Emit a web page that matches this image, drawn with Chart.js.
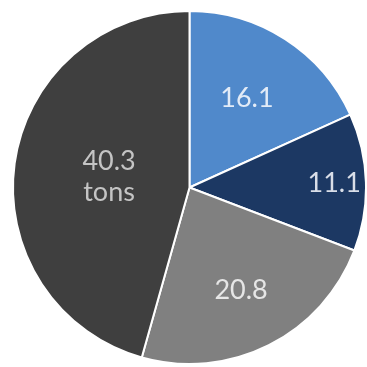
<!DOCTYPE html>
<html lang="en">
<head>
    <meta charset="UTF-8">
    <title>Tons pie</title>
    <script src="https://cdn.jsdelivr.net/npm/chart.js"></script>
    <style>
        html, body {
            margin: 0;
            padding: 0;
            background: #ffffff;
        }
        #chartBox {
            width: 367px;
            height: 367px;
        }
    </style>
</head>
<body>
<div id="chartBox">
    <canvas id="pieChart"></canvas>
</div>
<script>
    // slice data, clockwise from 12 o'clock
    const categories = ['A', 'B', 'C', 'D'];
    const values = [16.1, 11.1, 20.8, 40.3];
    const units = ['', '', '', 'tons'];   // second line under the value
    const sliceColors = ['#5089cb', '#1c3863', '#808080', '#3f3f3f'];
    const labelColors = ['#e2ebf7', '#d9dee8', '#e6e6e6', '#c4c4c4'];

    // how far out each label sits, as a share of the radius
    const labelRadius = [0.6, 0.82, 0.65, 0.46];

    const sliceLabels = {
        id: 'sliceLabels',
        afterDatasetsDraw(chart) {
            const ctx = chart.ctx;
            const meta = chart.getDatasetMeta(0);
            ctx.save();
            ctx.font = '27px Lato, "Open Sans", sans-serif';
            ctx.textAlign = 'center';
            ctx.textBaseline = 'middle';
            meta.data.forEach((arc, i) => {
                const p = arc.getProps(['x', 'y', 'startAngle', 'endAngle', 'outerRadius'], true);
                const mid = (p.startAngle + p.endAngle) / 2;
                const r = p.outerRadius * labelRadius[i];
                const x = p.x + Math.cos(mid) * r;
                const y = p.y + Math.sin(mid) * r;
                ctx.fillStyle = labelColors[i];
                if (units[i]) {
                    ctx.fillText(values[i].toFixed(1), x, y - 15);
                    ctx.fillText(units[i], x, y + 16);
                } else {
                    ctx.fillText(values[i].toFixed(1), x, y);
                }
            });
            ctx.restore();
        }
    };

    const chart = new Chart(document.getElementById('pieChart'), {
        type: 'pie',
        data: {
            labels: categories,
            datasets: [{
                data: values,
                backgroundColor: sliceColors,
                borderColor: '#ffffff',
                borderWidth: 2,
                hoverOffset: 0
            }]
        },
        options: {
            responsive: true,
            maintainAspectRatio: false,
            animation: false,
            layout: {
                padding: { left: 12, right: 0, top: 9, bottom: 1 }
            },
            plugins: {
                legend: { display: false },
                tooltip: { enabled: false }
            }
        },
        plugins: [sliceLabels]
    });
</script>
</body>
</html>
